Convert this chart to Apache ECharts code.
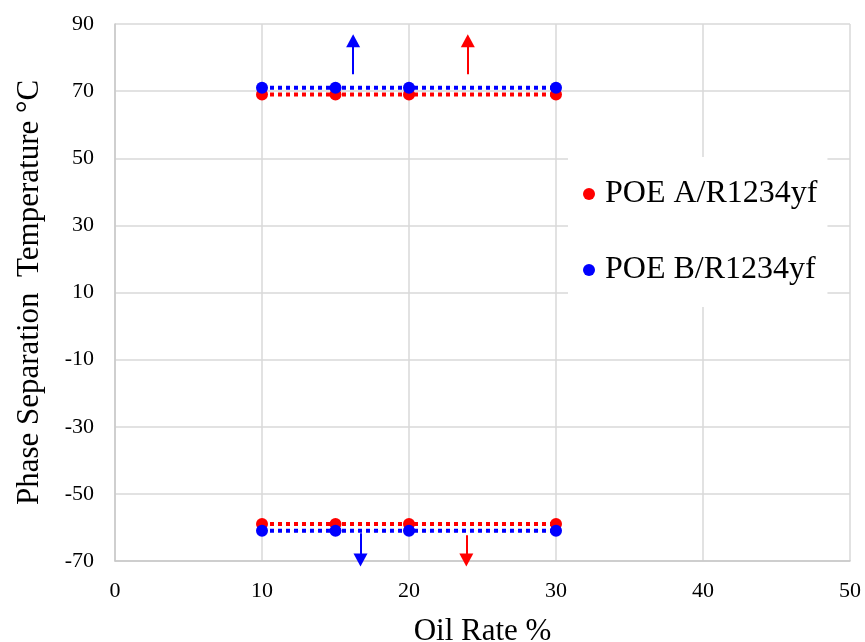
<!DOCTYPE html>
<html>
<head>
<meta charset="utf-8">
<script src="https://cdn.jsdelivr.net/npm/echarts@6/dist/echarts.min.js"></script>
<style>html,body{margin:0;padding:0;background:#fff;overflow:hidden}#c{width:865px;height:642px}</style>
</head>
<body>
<div id="c"></div>
<script>
const xTicks = [0, 10, 20, 30, 40, 50];
const yTicks = [-70, -50, -30, -10, 10, 30, 50, 70, 90];
const oilRate = [10, 15, 20, 30];
const poeA_upper = [69, 69, 69, 69];
const poeA_lower = [-59, -59, -59, -59];
const poeB_upper = [71, 71, 71, 71];
const poeB_lower = [-61, -61, -61, -61];
// arrows: [x, yStart, yEnd]
const arrowsA = [[24.0, 75, 85], [23.9, -62.3, -69.7]];
const arrowsB = [[16.2, 75, 85], [16.7, -61.7, -69.7]];
const nameA = 'POE A/R1234yf';
const nameB = 'POE B/R1234yf';
const red = '#ff0000', blue = '#0000ff';
const FONT = '"Liberation Serif","Times New Roman",serif';

function pts(xs, ys){ return xs.map((x,i)=>[x, ys[i]]); }
function arrowLines(arr){
  return arr.map(a => [{coord:[a[0], a[1]]}, {coord:[a[0], a[2]]}]);
}
function lineSeries(name, color, data, arrows){
  const s = {
    name: name, type: 'line', data: data,
    symbol: 'circle', symbolSize: 12,
    itemStyle: {color: color},
    lineStyle: {color: color, width: 4, type: [4, 4]},
    z: color === blue ? 3 : 2,
    animation: false
  };
  if (arrows) {
    s.markLine = {
      silent: true, animation: false,
      symbol: ['none', 'triangle'], symbolSize: [14, 13],
      label: {show: false},
      lineStyle: {color: color, width: 2, type: 'solid'},
      data: arrowLines(arrows)
    };
  }
  return s;
}

const chart = echarts.init(document.getElementById('c'), null, {renderer: 'canvas', width: 865, height: 642});
chart.setOption({
  backgroundColor: '#fff',
  animation: false,
  textStyle: {fontFamily: FONT},
  grid: {left: 115, top: 24, width: 735, height: 537, containLabel: false, outerBoundsMode: 'none'},
  legend: {
    orient: 'vertical', left: 568, top: 157,
    backgroundColor: '#fff',
    padding: [19, 10, 19, 15],
    itemWidth: 12, itemHeight: 12, itemGap: 40,
    icon: 'circle',
    data: [nameA, nameB],
    textStyle: {fontFamily: FONT, fontSize: 32, color: '#000', lineHeight: 36, padding: [0,0,0,5]},
    z: 10
  },
  xAxis: {
    type: 'value', min: xTicks[0], max: xTicks[xTicks.length-1], interval: 10,
    name: 'Oil Rate %', nameLocation: 'middle', nameGap: 55,
    nameTextStyle: {fontFamily: FONT, fontSize: 31, color: '#000'},
    axisLine: {show: true, onZero: false, lineStyle: {color: '#c8c8c8', width: 1.5}},
    axisTick: {show: false},
    axisLabel: {fontFamily: FONT, fontSize: 22, color: '#000', margin: 19},
    splitLine: {show: true, lineStyle: {color: '#d9d9d9', width: 1.5}}
  },
  yAxis: {
    type: 'value', min: yTicks[0], max: yTicks[yTicks.length-1], interval: 20,
    name: 'Phase Separation  Temperature °C', nameLocation: 'middle', nameGap: 70,
    nameTextStyle: {fontFamily: FONT, fontSize: 31, color: '#000'},
    axisLine: {show: true, onZero: false, lineStyle: {color: '#c8c8c8', width: 1.5}},
    axisTick: {show: false},
    axisLabel: {fontFamily: FONT, fontSize: 22, color: '#000', margin: 21},
    splitLine: {show: true, lineStyle: {color: '#d9d9d9', width: 1.5}}
  },
  series: [
    lineSeries(nameA, red, pts(oilRate, poeA_upper), arrowsA),
    lineSeries(nameA, red, pts(oilRate, poeA_lower), null),
    lineSeries(nameB, blue, pts(oilRate, poeB_upper), arrowsB),
    lineSeries(nameB, blue, pts(oilRate, poeB_lower), null)
  ]
});
</script>
</body>
</html>
